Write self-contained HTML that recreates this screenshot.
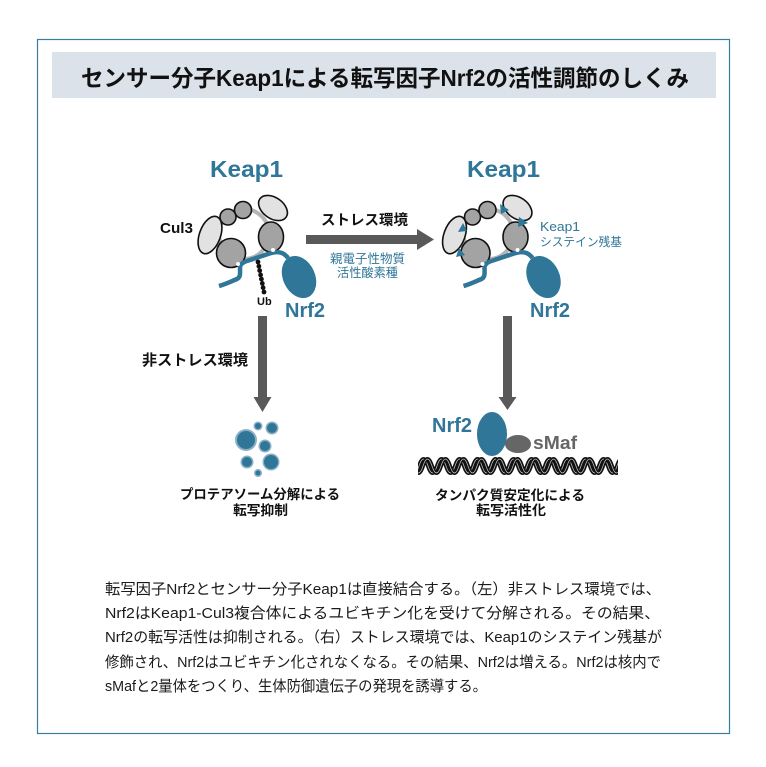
<!DOCTYPE html>
<html><head><meta charset="utf-8"><style>
html,body{margin:0;padding:0;background:#fff;}
svg{display:block;}
text{font-family:"Liberation Sans","Noto Sans CJK JP",sans-serif;}
</style></head><body>
<svg width="766" height="767" viewBox="0 0 766 767" xmlns="http://www.w3.org/2000/svg">
<defs>
<clipPath id="dnaclip"><rect x="418" y="448" width="200" height="34"/></clipPath>
</defs>
<rect x="0" y="0" width="766" height="767" fill="#fff"/>
<rect x="37.5" y="39.5" width="692" height="694" fill="none" stroke="#3a7d9e" stroke-width="1.2"/>
<rect x="52" y="52" width="664" height="46" fill="#dbe2ea"/>
<text x="81" y="86" font-size="23" font-weight="bold" fill="#111" textLength="608" lengthAdjust="spacingAndGlyphs">センサー分子Keap1による転写因子Nrf2の活性調節のしくみ</text>

<text x="210" y="177" font-size="23" font-weight="bold" fill="#2f7698" textLength="73" lengthAdjust="spacingAndGlyphs">Keap1</text>
<text x="467" y="177" font-size="23" font-weight="bold" fill="#2f7698" textLength="73" lengthAdjust="spacingAndGlyphs">Keap1</text>

<text x="160" y="233" font-size="15" font-weight="bold" fill="#111" textLength="33" lengthAdjust="spacingAndGlyphs">Cul3</text>

<g id="keapL">
  <circle cx="244" cy="234" r="25" fill="none" stroke="#b5b5b5" stroke-width="4"/>
  <ellipse cx="210" cy="235" rx="10.5" ry="19.5" transform="rotate(20 210 235)" fill="#e2e2e2" stroke="#111" stroke-width="1.6"/>
  <ellipse cx="273" cy="208" rx="16" ry="10.5" transform="rotate(35 273 208)" fill="#e2e2e2" stroke="#111" stroke-width="1.6"/>
  <circle cx="228" cy="217" r="8" fill="#a3a3a3" stroke="#111" stroke-width="1.6"/>
  <circle cx="243" cy="210" r="8.5" fill="#a3a3a3" stroke="#111" stroke-width="1.6"/>
  <ellipse cx="271" cy="237" rx="12.5" ry="15" fill="#a3a3a3" stroke="#111" stroke-width="1.6"/>
  <ellipse cx="231" cy="253" rx="14.5" ry="14.5" fill="#a3a3a3" stroke="#111" stroke-width="1.6"/>
  <path d="M219,286 C226,284 232,281 237,279 C241,277 240,272 240,268 C240,264 243,262 250,260 L268,254 C276,251 283,251 288,258" fill="none" stroke="#2f7698" stroke-width="4.5"/>
  <circle cx="238" cy="264" r="2" fill="#fff"/>
  <circle cx="273" cy="250" r="2" fill="#fff"/>
  <ellipse cx="299" cy="277" rx="16" ry="22" transform="rotate(-25 299 277)" fill="#2f7698"/>
</g>
<g fill="#111">
  <circle cx="258" cy="262" r="2.4"/><circle cx="258.9" cy="266.3" r="2.4"/><circle cx="259.7" cy="270.6" r="2.4"/><circle cx="260.6" cy="274.9" r="2.4"/><circle cx="261.4" cy="279.1" r="2.4"/><circle cx="262.3" cy="283.4" r="2.4"/><circle cx="263.1" cy="287.7" r="2.4"/><circle cx="264" cy="292" r="2.4"/>
</g>
<text x="257" y="305" font-size="11" font-weight="bold" fill="#111">Ub</text>
<text x="285" y="317" font-size="20" font-weight="bold" fill="#2f7698" textLength="40" lengthAdjust="spacingAndGlyphs">Nrf2</text>

<rect x="306" y="235" width="112" height="9" fill="#595959"/>
<polygon points="417,229 434,239.5 417,250" fill="#595959"/>
<text x="321" y="225" font-size="14.5" font-weight="bold" fill="#111" textLength="87" lengthAdjust="spacingAndGlyphs">ストレス環境</text>
<text x="330" y="263" font-size="12.5" fill="#2f7698" textLength="75" lengthAdjust="spacingAndGlyphs">親電子性物質</text>
<text x="337" y="277" font-size="12.3" fill="#2f7698" textLength="61" lengthAdjust="spacingAndGlyphs">活性酸素種</text>

<g transform="translate(244.5,0)">
  <circle cx="244" cy="234" r="25" fill="none" stroke="#b5b5b5" stroke-width="4"/>
  <ellipse cx="210" cy="235" rx="10.5" ry="19.5" transform="rotate(20 210 235)" fill="#e2e2e2" stroke="#111" stroke-width="1.6"/>
  <ellipse cx="273" cy="208" rx="16" ry="10.5" transform="rotate(35 273 208)" fill="#e2e2e2" stroke="#111" stroke-width="1.6"/>
  <circle cx="228" cy="217" r="8" fill="#a3a3a3" stroke="#111" stroke-width="1.6"/>
  <circle cx="243" cy="210" r="8.5" fill="#a3a3a3" stroke="#111" stroke-width="1.6"/>
  <ellipse cx="271" cy="237" rx="12.5" ry="15" fill="#a3a3a3" stroke="#111" stroke-width="1.6"/>
  <ellipse cx="231" cy="253" rx="14.5" ry="14.5" fill="#a3a3a3" stroke="#111" stroke-width="1.6"/>
  <path d="M219,286 C226,284 232,281 237,279 C241,277 240,272 240,268 C240,264 243,262 250,260 L268,254 C276,251 283,251 288,258" fill="none" stroke="#2f7698" stroke-width="4.5"/>
  <circle cx="238" cy="264" r="2" fill="#fff"/>
  <circle cx="273" cy="250" r="2" fill="#fff"/>
  <ellipse cx="299" cy="277" rx="16" ry="22" transform="rotate(-25 299 277)" fill="#2f7698"/>
</g>
<g fill="#2f7698">
  <polygon points="463,223 458,232 467,231"/>
  <polygon points="459,248 456,257 465,255"/>
  <polygon points="509,210 500,204 501,214"/>
  <polygon points="528,223 519,217 518,227"/>
</g>
<text x="540" y="231" font-size="13" fill="#2f7698" textLength="40" lengthAdjust="spacingAndGlyphs">Keap1</text>
<text x="540" y="246" font-size="12" fill="#2f7698" textLength="82" lengthAdjust="spacingAndGlyphs">システイン残基</text>
<text x="530" y="317" font-size="20" font-weight="bold" fill="#2f7698" textLength="40" lengthAdjust="spacingAndGlyphs">Nrf2</text>

<rect x="258" y="316" width="9" height="82" fill="#595959"/>
<polygon points="253.5,397 271.5,397 262.5,412" fill="#595959"/>
<rect x="503" y="316" width="9" height="82" fill="#595959"/>
<polygon points="498.5,397 516.5,397 507.5,410" fill="#595959"/>

<text x="142" y="365" font-size="15" font-weight="bold" fill="#111" textLength="106" lengthAdjust="spacingAndGlyphs">非ストレス環境</text>

<g>
  <circle cx="246" cy="440" r="11" fill="#8db0c6"/><circle cx="246" cy="440" r="9" fill="#2f7698"/>
  <circle cx="258" cy="426" r="4.5" fill="#8db0c6"/><circle cx="258" cy="426" r="3" fill="#2f7698"/>
  <circle cx="272" cy="428" r="6.5" fill="#8db0c6"/><circle cx="272" cy="428" r="5" fill="#2f7698"/>
  <circle cx="265" cy="446" r="6.5" fill="#8db0c6"/><circle cx="265" cy="446" r="5" fill="#2f7698"/>
  <circle cx="247" cy="462" r="6.5" fill="#8db0c6"/><circle cx="247" cy="462" r="5" fill="#2f7698"/>
  <circle cx="271" cy="462" r="8.5" fill="#8db0c6"/><circle cx="271" cy="462" r="7" fill="#2f7698"/>
  <circle cx="258" cy="473" r="4" fill="#8db0c6"/><circle cx="258" cy="473" r="2.5" fill="#2f7698"/>
</g>
<text x="260" y="499" font-size="13.5" font-weight="bold" fill="#111" text-anchor="middle" textLength="160" lengthAdjust="spacingAndGlyphs">プロテアソーム分解による</text>
<text x="260.5" y="515" font-size="13.5" font-weight="bold" fill="#111" text-anchor="middle" textLength="55" lengthAdjust="spacingAndGlyphs">転写抑制</text>

<text x="432" y="432" font-size="20" font-weight="bold" fill="#2f7698" textLength="40" lengthAdjust="spacingAndGlyphs">Nrf2</text>
<ellipse cx="518" cy="444" rx="13" ry="9" fill="#666"/>
<ellipse cx="492" cy="434" rx="15" ry="22" fill="#2f7698"/>
<text x="533" y="449" font-size="18" font-weight="bold" fill="#666" textLength="44" lengthAdjust="spacingAndGlyphs">sMaf</text>

<g fill="none" clip-path="url(#dnaclip)">
  <path d="M401,466 Q405.5,452 410,466 T419,466 T428,466 T437,466 T446,466 T455,466 T464,466 T473,466 T482,466 T491,466 T500,466 T509,466 T518,466 T527,466 T536,466 T545,466 T554,466 T563,466 T572,466 T581,466 T590,466 T599,466 T608,466 T617,466 T626,466" stroke="#111" stroke-width="4"/>
  <path d="M401,466 Q405.5,452 410,466 T419,466 T428,466 T437,466 T446,466 T455,466 T464,466 T473,466 T482,466 T491,466 T500,466 T509,466 T518,466 T527,466 T536,466 T545,466 T554,466 T563,466 T572,466 T581,466 T590,466 T599,466 T608,466 T617,466 T626,466" stroke="#ccc" stroke-width="0.7"/>
  <path d="M405,466 Q409.5,452 414,466 T423,466 T432,466 T441,466 T450,466 T459,466 T468,466 T477,466 T486,466 T495,466 T504,466 T513,466 T522,466 T531,466 T540,466 T549,466 T558,466 T567,466 T576,466 T585,466 T594,466 T603,466 T612,466 T621,466 T630,466" stroke="#111" stroke-width="4"/>
  <path d="M405,466 Q409.5,452 414,466 T423,466 T432,466 T441,466 T450,466 T459,466 T468,466 T477,466 T486,466 T495,466 T504,466 T513,466 T522,466 T531,466 T540,466 T549,466 T558,466 T567,466 T576,466 T585,466 T594,466 T603,466 T612,466 T621,466 T630,466" stroke="#ccc" stroke-width="0.7"/>
</g>
<text x="510" y="500" font-size="13.5" font-weight="bold" fill="#111" text-anchor="middle" textLength="150" lengthAdjust="spacingAndGlyphs">タンパク質安定化による</text>
<text x="511" y="515" font-size="13.5" font-weight="bold" fill="#111" text-anchor="middle" textLength="70" lengthAdjust="spacingAndGlyphs">転写活性化</text>

<g font-size="15" fill="#1a1a1a">
  <text x="105" y="594" textLength="556" lengthAdjust="spacingAndGlyphs">転写因子Nrf2とセンサー分子Keap1は直接結合する。（左）非ストレス環境では、</text>
  <text x="105" y="618" textLength="555" lengthAdjust="spacingAndGlyphs">Nrf2はKeap1-Cul3複合体によるユビキチン化を受けて分解される。その結果、</text>
  <text x="105" y="642" textLength="557" lengthAdjust="spacingAndGlyphs">Nrf2の転写活性は抑制される。（右）ストレス環境では、Keap1のシステイン残基が</text>
  <text x="105" y="667" textLength="556" lengthAdjust="spacingAndGlyphs">修飾され、Nrf2はユビキチン化されなくなる。その結果、Nrf2は増える。Nrf2は核内で</text>
  <text x="105" y="691" textLength="382" lengthAdjust="spacingAndGlyphs">sMafと2量体をつくり、生体防御遺伝子の発現を誘導する。</text>
</g>
</svg>
</body></html>
